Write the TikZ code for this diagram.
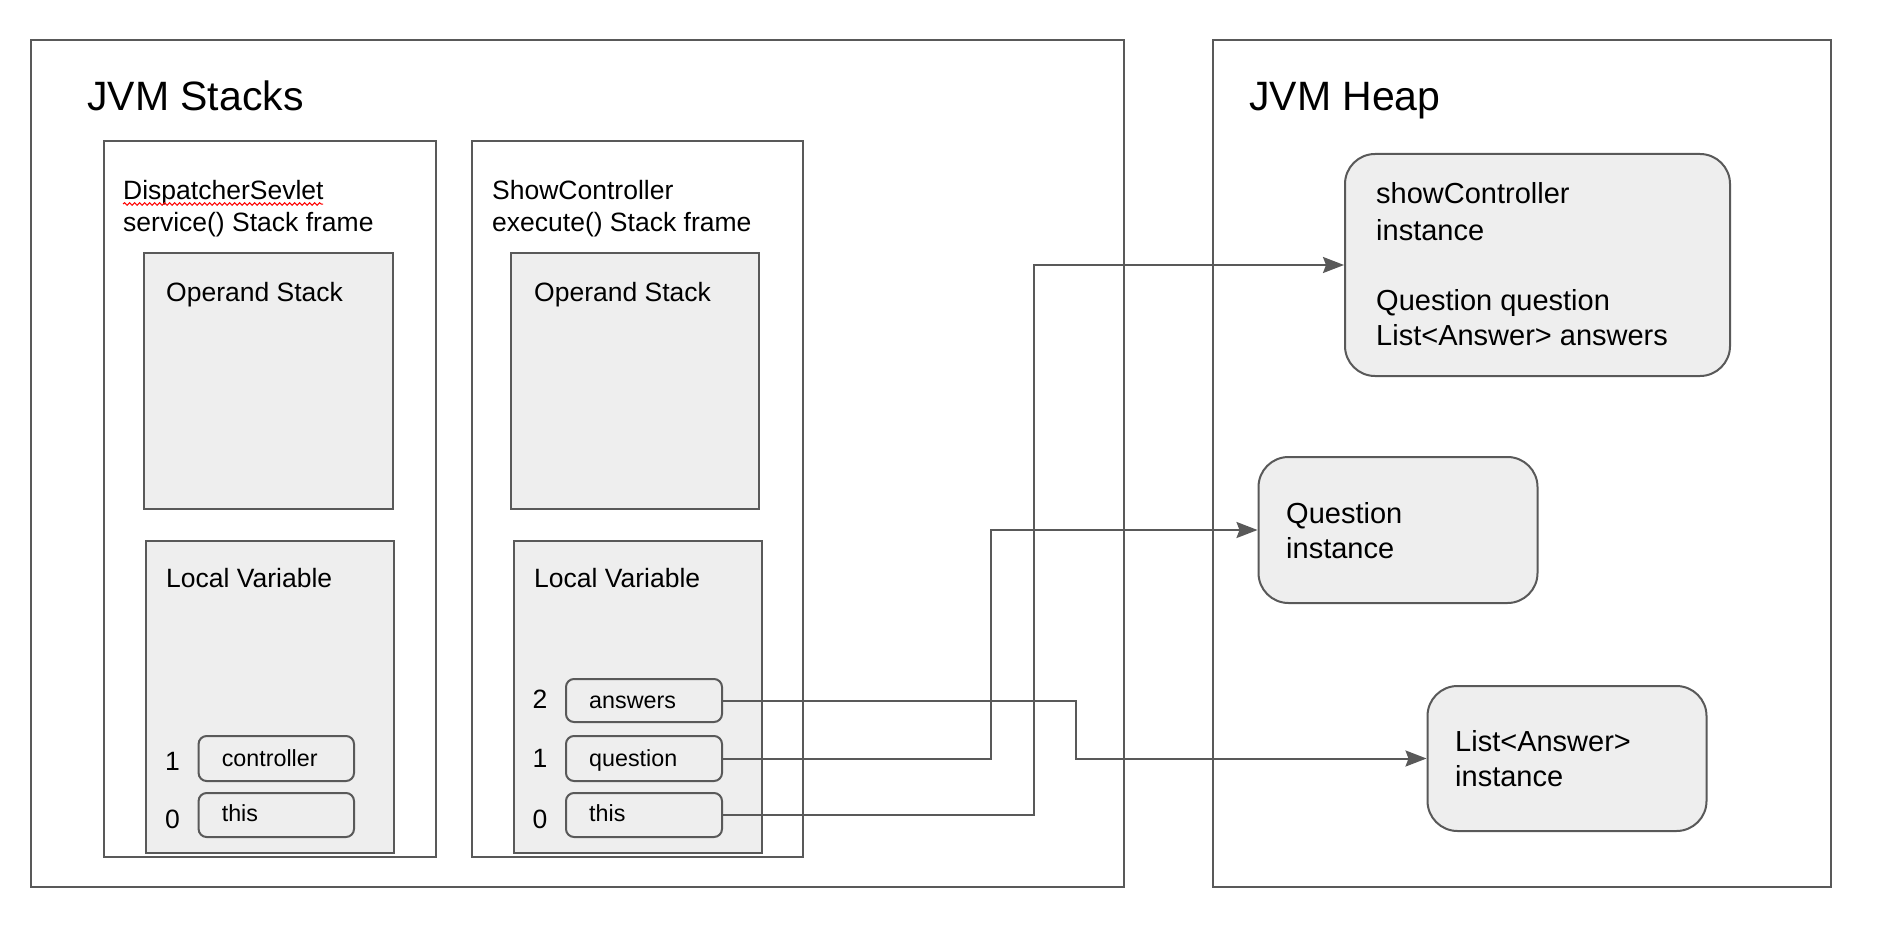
\documentclass[tikz,border=0pt]{standalone}
\usepackage{fontspec}
\setmainfont{Liberation Sans}
\usetikzlibrary{arrows.meta,decorations.pathmorphing}
\definecolor{lc}{HTML}{595959}
\definecolor{boxfill}{HTML}{EEEEEE}
\tikzset{
  area/.style={draw=lc, line width=2pt, fill=white, anchor=north west, inner sep=0pt},
  frm/.style={draw=lc, line width=2pt, fill=white, anchor=north west, inner sep=0pt},
  part/.style={draw=lc, line width=2pt, fill=boxfill, anchor=north west, inner sep=0pt},
  slot/.style={draw=lc, line width=2pt, fill=boxfill, rounded corners=8pt, anchor=north west, inner sep=0pt},
  obj/.style={draw=lc, line width=2pt, fill=boxfill, rounded corners=30pt, anchor=north west, inner sep=0pt},
  title/.style={anchor=base west, inner sep=0pt, font=\fontsize{41}{48}\selectfont},
  lbl/.style={anchor=base west, inner sep=0pt, font=\fontsize{26.5}{32}\selectfont},
  objlbl/.style={anchor=base west, inner sep=0pt, font=\fontsize{29}{35}\selectfont},
  slotlbl/.style={anchor=base west, inner sep=0pt, font=\fontsize{23.3}{28}\selectfont},
  idx/.style={anchor=center, inner sep=0pt, font=\fontsize{26.5}{32}\selectfont},
  ref/.style={draw=lc, line width=2pt, -{Stealth[length=21pt,width=16pt,inset=3pt]}},
}
\begin{document}
\begin{tikzpicture}[x=1pt,y=-1pt]
\useasboundingbox (0,0) rectangle (1878,936);
\fill[white] (0,0) rectangle (1878,936);

% areas
\node[area, minimum width=1093pt, minimum height=846.5pt] (stacks) at (30,39.5) {};
\node[area, minimum width=618pt, minimum height=846.5pt] (heap) at (1212,39.5) {};
\node[title] (stackst) at (87,110.5) {JVM Stacks};
\node[title] (heapt) at (1249,110.5) {JVM Heap};

% stack frame: DispatcherSevlet.service()
\node[frm, minimum width=332pt, minimum height=716pt] (f1) at (103,140) {};
\node[lbl] (f1a) at (123,200) {DispatcherSevlet};
\node[lbl] (f1b) at (123,231) {service() Stack frame};
\draw[red, line width=1pt, decorate, decoration={snake, amplitude=1.3pt, segment length=5pt}]
  (f1a.base west) ++(0,4) -- ++(200,0);
\node[part, minimum width=249pt, minimum height=256.5pt] (op1) at (142.5,251.5) {};
\node[lbl] (op1t) at (166,301) {Operand Stack};
\node[part, minimum width=248pt, minimum height=311.6pt] (lv1) at (145,540) {};
\node[lbl] (lv1t) at (166,587) {Local Variable};
\node[slot, minimum width=155.4pt, minimum height=45pt] (controller) at (197.6,735) {};
\node[slotlbl] (controllert) at (221.6,766) {controller};
\node[slot, minimum width=155.4pt, minimum height=44pt] (this1) at (197.6,792) {};
\node[slotlbl] (this1t) at (221.6,821) {this};
\node[idx] (i11) at (172.5,761) {1};
\node[idx] (i10) at (172.5,819) {0};

% stack frame: ShowController.execute()
\node[frm, minimum width=331pt, minimum height=716pt] (f2) at (471,140) {};
\node[lbl] (f2a) at (492,200) {ShowController};
\node[lbl] (f2b) at (492,231) {execute() Stack frame};
\node[part, minimum width=248pt, minimum height=256.5pt] (op2) at (510,251.5) {};
\node[lbl] (op2t) at (534,301) {Operand Stack};
\node[part, minimum width=248pt, minimum height=311.6pt] (lv2) at (512.6,540) {};
\node[lbl] (lv2t) at (534,587) {Local Variable};
\node[slot, minimum width=156pt, minimum height=43pt] (answers) at (565,678) {};
\node[slotlbl] (answerst) at (589,708) {answers};
\node[slot, minimum width=156pt, minimum height=45pt] (question) at (565,735) {};
\node[slotlbl] (questiont) at (589,766) {question};
\node[slot, minimum width=156pt, minimum height=44pt] (this2) at (565,792) {};
\node[slotlbl] (this2t) at (589,821) {this};
\node[idx] (i22) at (540,699) {2};
\node[idx] (i21) at (540,758) {1};
\node[idx] (i20) at (540,819) {0};

% heap objects
\node[obj, minimum width=385pt, minimum height=222pt] (sc) at (1344,153) {};
\node[objlbl] (sc1) at (1376,204) {showController};
\node[objlbl] (sc2) at (1376,240) {instance};
\node[objlbl] (sc3) at (1376,310) {Question question};
\node[objlbl] (sc4) at (1376,345) {List<Answer> answers};
\node[obj, minimum width=279pt, minimum height=146pt] (qi) at (1257.5,456) {};
\node[objlbl] (qi1) at (1286,523) {Question};
\node[objlbl] (qi2) at (1286,558) {instance};
\node[obj, minimum width=279pt, minimum height=145pt] (li) at (1426.5,685) {};
\node[objlbl] (li1) at (1455,751) {List<Answer>};
\node[objlbl] (li2) at (1455,786) {instance};

% references from local variables to heap objects
\draw[ref] (this2.east) -- ++(311,0) |- (sc.west);
\draw[ref] (question.east) -- ++(268,0) |- (qi.west);
\draw[ref] (answers.east) -- ++(353,0) |- (li.west);
\end{tikzpicture}
\end{document}
